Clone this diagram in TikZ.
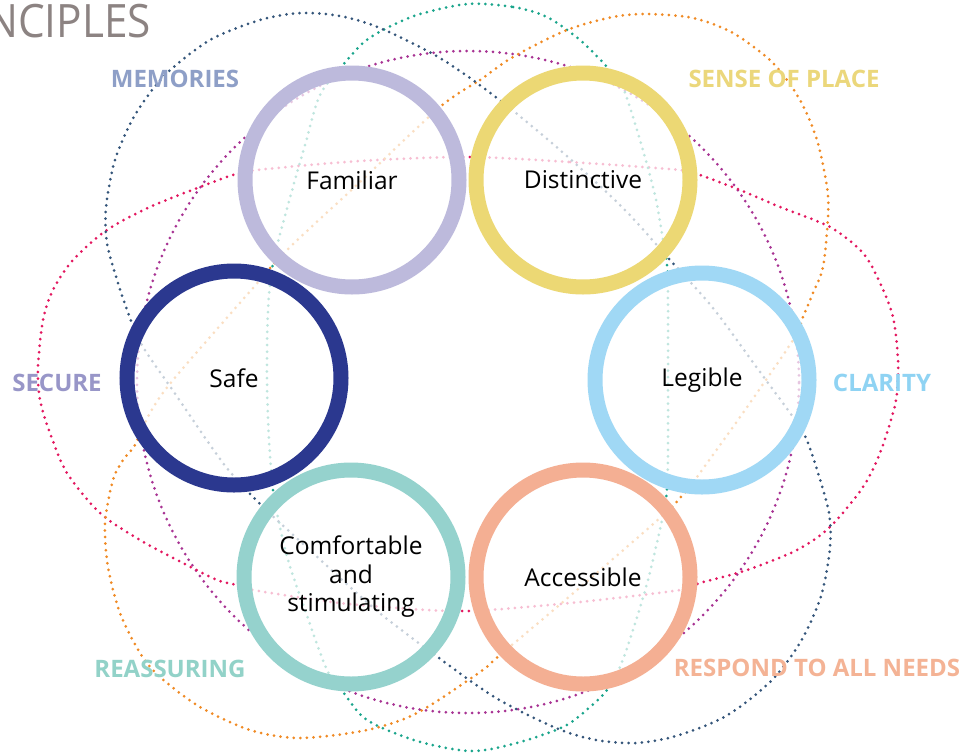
\documentclass[tikz,border=0pt]{standalone}
\usepackage{fontspec}
\setmainfont{Open Sans}
\definecolor{famc}{HTML}{BDBADC}
\definecolor{distc}{HTML}{ECD874}
\definecolor{legc}{HTML}{A0D8F5}
\definecolor{accc}{HTML}{F4AF93}
\definecolor{comc}{HTML}{95D2CD}
\definecolor{safec}{HTML}{2B388F}
\definecolor{navyd}{HTML}{34557A}
\definecolor{teald}{HTML}{1AA58C}
\definecolor{oranged}{HTML}{F08A24}
\definecolor{crimd}{HTML}{E3175F}
\definecolor{purpd}{HTML}{A83393}
\definecolor{titlec}{HTML}{8C8382}
\definecolor{memc}{HTML}{8E9FC7}
\definecolor{sensec}{HTML}{EBD77B}
\definecolor{secc}{HTML}{9896C8}
\definecolor{clac}{HTML}{8FD3F3}
\definecolor{reac}{HTML}{92D2C8}
\definecolor{resc}{HTML}{F4B395}
\begin{document}
\begin{tikzpicture}[x=1pt,y=-1pt,
  dots/.style={line width=3pt, line cap=round, dash pattern=on 0pt off 6.6pt},
  ring/.style={circle, minimum size=214pt, inner sep=0pt, line width=15pt, fill=white, fill opacity=0.72, text opacity=1, font=\fontsize{24.5}{28.5}\selectfont, align=center},
  lab/.style={inner sep=0pt, font=\fontsize{24}{24}\selectfont\bfseries}]
\useasboundingbox (0,0) rectangle (965,753);
\fill[white] (0,0) rectangle (965,753);
% title
\node[anchor=base east, inner sep=0pt, text=titlec, font=\fontsize{46}{46}\selectfont] (title) at (151,37) {\scalebox{0.92}[1]{NCIPLES}};
% dotted curves
\draw[dots, purpd] (468,382) circle[radius=331pt];
\draw[dots, crimd] plot[smooth cycle] coordinates {(467,157) (570,162) (680,170) (700,175) (740,190) (780,207) (830,227) (863,253) (880,283) (893,317) (898,360) (897,393) (893,413) (880,453) (863,487) (830,527) (797,550) (747,570) (700,583) (680,590) (580,602) (490,610) (467,611) (427,610) (340,603) (253,590) (237,585) (217,580) (183,563) (140,540) (100,513) (67,473) (50,433) (40,400) (38,367) (43,320) (53,290) (73,260) (107,230) (150,207) (200,187) (233,175) (257,170) (360,161)};
\draw[dots, teald] plot[smooth cycle] coordinates {(467,4) (513,7) (547,17) (580,40) (607,67) (623,88) (640,140) (655,195) (663,240) (667,265) (668,300) (668,378) (668,450) (667,490) (662,520) (648,580) (633,630) (620,667) (607,690) (590,707) (563,727) (513,744) (470,751) (417,741) (367,720) (343,692) (327,670) (305,610) (288,560) (277,513) (273,490) (269,440) (267,380) (268,310) (273,263) (288,205) (305,145) (320,95) (343,65) (363,43) (383,30) (417,15)};
\draw[dots, oranged] plot[smooth cycle] coordinates {(440,107) (480,80) (513,57) (567,30) (613,17) (647,14) (693,18) (733,33) (773,63) (800,100) (817,140) (827,187) (828,217) (823,267) (813,293) (803,317) (793,340) (745,410) (697,477) (680,498) (660,518) (570,596) (500,655) (480,672) (417,713) (367,730) (300,738) (250,730) (200,707) (160,677) (140,653) (120,613) (108,567) (105,523) (113,480) (123,460) (135,445) (150,413) (173,380) (253,288) (287,250) (360,182)};
\draw[dots, navyd] plot[smooth cycle] coordinates {(130,318) (118,283) (107,243) (106,208) (115,160) (135,115) (165,75) (210,40) (260,20) (300,13) (340,16) (380,28) (440,58) (497,98) (560,150) (623,208) (670,260) (713,308) (760,372) (793,417) (806,438) (818,473) (829,513) (830,548) (821,596) (801,641) (771,681) (726,716) (676,736) (636,743) (596,740) (556,728) (496,698) (439,658) (376,610) (313,553) (258,502) (223,463) (176,395) (143,347)};
% rings
\node[ring, draw=famc] (fam) at (352,180) {Familiar};
\node[ring, draw=distc] (dist) at (583,180) {Distinctive};
\node[ring, draw=legc] (leg) at (702,380) {Legible};
\node[ring, draw=accc] (acc) at (583,577) {Accessible};
\node[ring, draw=comc] (com) at (351,577) {Comfortable\\and\\stimulating};
\node[ring, draw=safec] (safe) at (234,378) {Safe};
% labels
\node[lab, text=memc] (mem) at (175,79) {MEMORIES};
\node[lab, text=sensec] (sense) at (784,79) {SENSE OF PLACE};
\node[lab, text=secc] (sec) at (57,383) {SECURE};
\node[lab, text=clac] (cla) at (882,383) {CLARITY};
\node[lab, text=reac] (rea) at (170,669) {REASSURING};
\node[lab, text=resc] (res) at (817,668) {RESPOND TO ALL NEEDS};
\end{tikzpicture}
\end{document}
